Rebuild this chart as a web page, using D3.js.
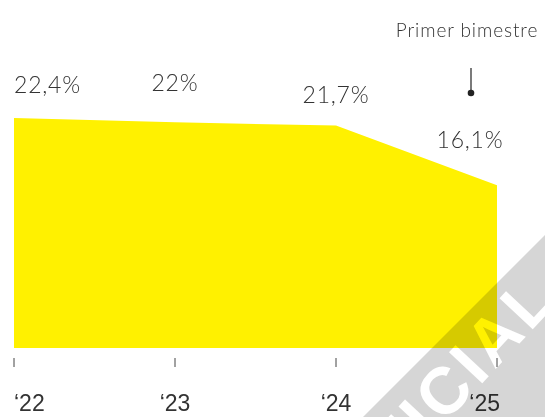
<!DOCTYPE html>
<html>
<head>
<meta charset="utf-8">
<title>Primer bimestre</title>
<script src="https://cdnjs.cloudflare.com/ajax/libs/d3/7.8.5/d3.min.js"></script>
<style>
  body { margin: 0; background: #fff; }
  svg { display: block; }
  .val { font-family: Lato, "Open Sans", sans-serif; font-weight: 300; font-size: 23px; letter-spacing: 0.8px; fill: #333; }
  .tick-label { font-family: "Liberation Sans", Arial, sans-serif; font-size: 23px; fill: #333; }
</style>
</head>
<body>
<svg id="vis" width="545" height="417"></svg>
<script>
// data
var years = ["2022", "2023", "2024", "2025"];
var tickLabels = ["\u201822", "\u201823", "\u201824", "\u201825"];
var values = [22.4, 22, 21.7, 16.1];
var valueLabels = ["22,4%", "22%", "21,7%", "16,1%"];
var note = "Primer bimestre";

var svg = d3.select("#vis");
var W = 545, H = 417;
var left = 14, right = 497, base = 348;

var x = d3.scalePoint().domain(years).range([left, right]);
var y = d3.scaleLinear().domain([0, 25]).range([356.6, 90.4]);

var rows = years.map(function (d, i) { return { year: d, v: values[i], label: valueLabels[i], tick: tickLabels[i] }; });

// yellow area
var area = d3.area()
    .x(function (d) { return x(d.year); })
    .y0(base)
    .y1(function (d) { return y(d.v); });

svg.append("path")
    .datum(rows)
    .attr("d", area)
    .attr("fill", "#fff100");

// value labels
var last = rows.length - 1;
svg.selectAll("text.val")
    .data(rows)
  .enter().append("text")
    .attr("class", "val")
    .attr("x", function (d, i) { return i === last ? x(d.year) - 27 : x(d.year); })
    .attr("y", function (d, i) {
      var gap = i === last ? 37 : (i === 1 ? 31 : (i === 2 ? 23 : 25));
      return y(d.v) - gap;
    })
    .attr("text-anchor", function (d, i) { return i === 0 ? "start" : "middle"; })
    .text(function (d) { return d.label; });

// annotation for the partial year
var ax = x(years[last]) - 26;
svg.append("text")
    .attr("class", "val")
    .attr("x", ax - 4)
    .attr("y", 37)
    .attr("text-anchor", "middle")
    .style("font-size", "19px")
    .style("letter-spacing", "0.9px")
    .text(note);
svg.append("line")
    .attr("x1", ax).attr("x2", ax)
    .attr("y1", 68).attr("y2", 92)
    .attr("stroke", "#222").attr("stroke-width", 1.2);
svg.append("circle")
    .attr("cx", ax).attr("cy", 93).attr("r", 3.3)
    .attr("fill", "#222");

// x axis: small ticks + year labels
var axis = svg.append("g");
axis.selectAll("line")
    .data(rows)
  .enter().append("line")
    .attr("x1", function (d) { return x(d.year); })
    .attr("x2", function (d) { return x(d.year); })
    .attr("y1", 358).attr("y2", 367)
    .attr("stroke", "#444").attr("stroke-width", 1);
axis.selectAll("text")
    .data(rows)
  .enter().append("text")
    .attr("class", "tick-label")
    .attr("x", function (d, i) { return i === last ? x(d.year) + 3 : x(d.year); })
    .attr("y", 411)
    .attr("text-anchor", function (d, i) { return i === 0 ? "start" : (i === last ? "end" : "middle"); })
    .text(function (d) { return d.tick; });

// faint diagonal watermark, bottom right
var wm = svg.append("g").style("mix-blend-mode", "multiply");
wm.append("path")
    .attr("d", "M780,0 L" + (W + 600) + ",0 L" + (W + 600) + "," + H + " L" + (780 - H) + "," + H + " Z")
    .attr("fill", "#d6d6d6");
wm.append("text")
    .attr("transform", "translate(560,300) rotate(-47)")
    .attr("text-anchor", "end")
    .style("font-family", "'Liberation Sans', Arial, sans-serif")
    .style("font-weight", "bold")
    .style("font-size", "66px")
    .style("letter-spacing", "4px")
    .attr("fill", "#fff")
    .text("OFICIAL");
</script>
</body>
</html>
